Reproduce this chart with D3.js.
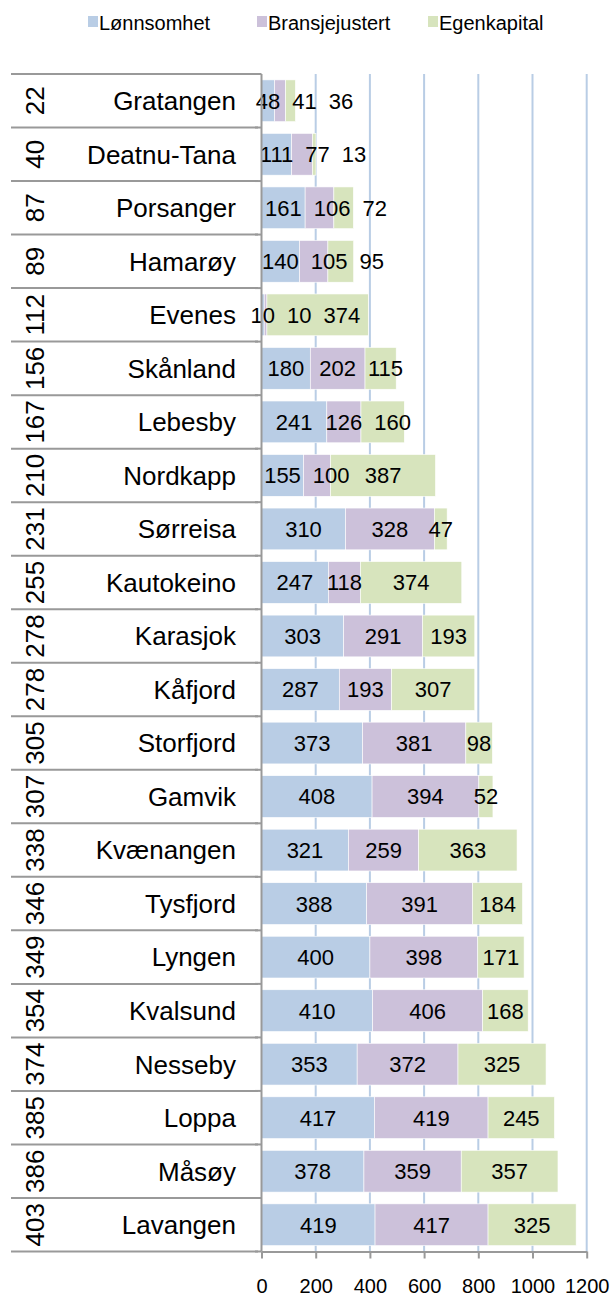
<!DOCTYPE html>
<html>
<head>
<meta charset="utf-8">
<script src="https://cdn.jsdelivr.net/npm/d3@7"></script>
<style>
  body { margin: 0; background: #fff; overflow: hidden; }
  text { font-family: "Liberation Sans", Arial, sans-serif; fill: #000; }
</style>
</head>
<body>
<script>
// values, top row first
var ranks = [22, 40, 87, 89, 112, 156, 167, 210, 231, 255, 278, 278, 305, 307, 338, 346, 349, 354, 374, 385, 386, 403];
var kommuner = ['Gratangen', 'Deatnu-Tana', 'Porsanger', 'Hamarøy', 'Evenes', 'Skånland', 'Lebesby',
  'Nordkapp', 'Sørreisa', 'Kautokeino', 'Karasjok', 'Kåfjord', 'Storfjord', 'Gamvik', 'Kvænangen',
  'Tysfjord', 'Lyngen', 'Kvalsund', 'Nesseby', 'Loppa', 'Måsøy', 'Lavangen'];
var lonnsomhet = [48, 111, 161, 140, 10, 180, 241, 155, 310, 247, 303, 287, 373, 408, 321, 388, 400, 410, 353, 417, 378, 419];
var bransje = [41, 77, 106, 105, 10, 202, 126, 100, 328, 118, 291, 193, 381, 394, 259, 391, 398, 406, 372, 419, 359, 417];
var egenkapital = [36, 13, 72, 95, 374, 115, 160, 387, 47, 374, 193, 307, 98, 52, 363, 184, 171, 168, 325, 245, 357, 325];
var seriesNames = ['Lønnsomhet', 'Bransjejustert', 'Egenkapital'];
var xTicks = [0, 200, 400, 600, 800, 1000, 1200];

var colors = ['#b9cde5', '#ccc1da', '#d7e4bd'];

var W = 614, H = 1298;
var top0 = 74, bottom0 = 1251.5;
var svg = d3.select('body').append('svg')
  .attr('width', W)
  .attr('height', H)
  .style('display', 'block');

var x = d3.scaleLinear().domain([0, 1200]).range([261.5, 586.7]);
var y = d3.scaleBand().domain(d3.range(kommuner.length)).range([top0, bottom0])
  .paddingInner(0.22).paddingOuter(0.11);
var step = y.step();

// stacked rows
var rows = kommuner.map(function (k, i) {
  return { i: i, vals: [lonnsomhet[i], bransje[i], egenkapital[i]] };
});

// gridlines
svg.append('g')
  .selectAll('line')
  .data(xTicks.slice(1))
  .enter().append('line')
  .attr('x1', function (d) { return x(d); })
  .attr('x2', function (d) { return x(d); })
  .attr('y1', top0)
  .attr('y2', bottom0)
  .style('stroke', '#b9cde5')
  .style('stroke-width', 2);

// bars
var rowG = svg.append('g').selectAll('g.row')
  .data(rows)
  .enter().append('g')
  .attr('class', 'row');

rowG.each(function (r) {
  var g = d3.select(this);
  var acc = 0;
  r.segs = r.vals.map(function (v, j) {
    var s = { j: j, v: v, x0: acc, x1: acc + v };
    acc += v;
    return s;
  });
  g.selectAll('rect')
    .data(r.segs)
    .enter().append('rect')
    .attr('x', function (s) { return x(s.x0); })
    .attr('width', function (s) { return x(s.x1) - x(s.x0); })
    .attr('y', y(r.i))
    .attr('height', y.bandwidth())
    .style('fill', function (s) { return colors[s.j]; })
    .style('stroke', '#fff')
    .style('stroke-width', 0.6);
});

// value labels, centred and nudged right when they would collide
rowG.each(function (r) {
  var g = d3.select(this);
  var prevRight = -Infinity;
  r.segs.forEach(function (s) {
    var t = g.append('text')
      .attr('text-anchor', 'middle')
      .attr('y', y(r.i) + y.bandwidth() / 2)
      .attr('dy', '0.36em')
      .style('font-size', '22px')
      .text(s.v);
    var w = t.node().getComputedTextLength();
    var cx = Math.max((x(s.x0) + x(s.x1)) / 2, prevRight + 12 + w / 2);
    t.attr('x', cx);
    prevRight = cx + w / 2;
  });
});

// left table: lines, ranks, names
var table = svg.append('g');
table.selectAll('line')
  .data(d3.range(kommuner.length + 1))
  .enter().append('line')
  .attr('x1', 11)
  .attr('x2', 258)
  .attr('y1', function (d) { return top0 + d * step; })
  .attr('y2', function (d) { return top0 + d * step; })
  .style('stroke', '#999')
  .style('stroke-width', 2);

table.selectAll('text.rank')
  .data(ranks)
  .enter().append('text')
  .attr('class', 'rank')
  .attr('text-anchor', 'middle')
  .attr('transform', function (d, i) {
    return 'translate(35,' + (y(i) + y.bandwidth() / 2) + ') rotate(-90)';
  })
  .attr('dy', '0.36em')
  .style('font-size', '26px')
  .text(function (d) { return d; });

table.selectAll('text.name')
  .data(kommuner)
  .enter().append('text')
  .attr('class', 'name')
  .attr('text-anchor', 'end')
  .attr('x', 236)
  .attr('y', function (d, i) { return y(i) + y.bandwidth() / 2; })
  .attr('dy', '0.36em')
  .style('font-size', '26px')
  .text(function (d) { return d; });

// y axis line with category ticks
var yAx = svg.append('g');
yAx.append('line')
  .attr('x1', 261.5).attr('x2', 261.5)
  .attr('y1', top0).attr('y2', bottom0)
  .style('stroke', '#999')
  .style('stroke-width', 2);
yAx.selectAll('line.tk')
  .data(d3.range(kommuner.length + 1))
  .enter().append('line')
  .attr('class', 'tk')
  .attr('x1', 255).attr('x2', 261.5)
  .attr('y1', function (d) { return top0 + d * step; })
  .attr('y2', function (d) { return top0 + d * step; })
  .style('stroke', '#999')
  .style('stroke-width', 2);

// x axis
var xAxis = d3.axisBottom(x).tickValues(xTicks).tickFormat(d3.format('d'))
  .tickSize(7).tickPadding(20).tickSizeOuter(0);
var xg = svg.append('g')
  .attr('transform', 'translate(0,' + bottom0 + ')')
  .call(xAxis);
xg.select('.domain').style('stroke', '#999').style('stroke-width', 2);
xg.selectAll('.tick line').style('stroke', '#999').style('stroke-width', 2);
xg.selectAll('.tick text')
  .style('font-size', '20px')
  .style('font-family', '"Liberation Sans", Arial, sans-serif')
  .style('fill', '#000');

// legend
var legendX = [88, 257, 428];
var leg = svg.append('g').selectAll('g')
  .data(seriesNames)
  .enter().append('g')
  .attr('transform', function (d, i) { return 'translate(' + legendX[i] + ',0)'; });
leg.append('rect')
  .attr('x', 0).attr('y', 16)
  .attr('width', 10).attr('height', 11)
  .style('fill', function (d, i) { return colors[i]; });
leg.append('text')
  .attr('x', 11)
  .attr('y', 30)
  .style('font-size', '20px')
  .text(function (d) { return d; });
</script>
</body>
</html>
